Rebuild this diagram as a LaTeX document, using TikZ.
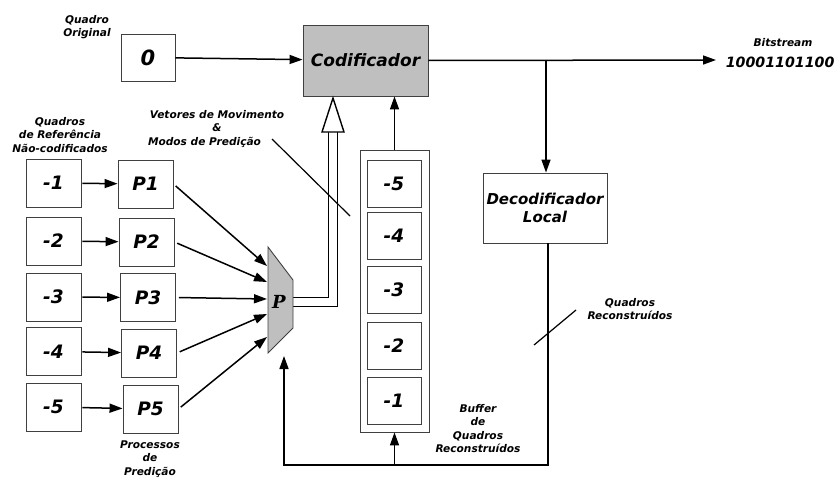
\documentclass[tikz,border=0pt]{standalone}
\usepackage{fontspec}
\setmainfont{DejaVu Sans}
\newfontfamily\muxfont{DejaVu Serif}
\usetikzlibrary{arrows.meta}
\begin{document}
\begin{tikzpicture}[x=1pt,y=-1pt,>={Triangle[length=13pt,width=9pt]},line width=1.5pt,
  box/.style={draw=black!75,line width=0.9pt,minimum width=55pt,minimum height=48pt,inner sep=0pt,font=\fontsize{18.5}{20}\selectfont\bfseries\itshape},
  lbl/.style={align=center,inner sep=0pt,font=\fontsize{10.6}{13.6}\selectfont\bfseries\itshape}]
\useasboundingbox (0,0) rectangle (840,479);
\node[lbl] (qo) at (87,27) {Quadro\\Original};
\node[box,minimum width=54pt,minimum height=47pt,font=\fontsize{21}{24}\selectfont\bfseries\itshape] (f0) at (148,57.5) {0};
\node[box,fill=black!25,minimum width=125pt,minimum height=71pt,font=\fontsize{17}{20}\selectfont\bfseries\itshape] (cod) at (365.5,60.5) {Codificador};
\node[box,minimum width=124pt,minimum height=70pt,align=center,font=\fontsize{15}{18}\selectfont\bfseries\itshape] (dec) at (545,208) {Decodificador\\Local};
\node[lbl] (bs) at (783,43) {Bitstream};
\node[anchor=west,inner sep=0pt,font=\fontsize{14.2}{16}\selectfont\bfseries\itshape] (bits) at (725,62) {10001101100};
\coordinate (out) at (716,60);
\coordinate (br) at (546,60);
\draw[->] (f0) -- (cod);
\draw[->] (cod.east) -- (out);
\draw[->] (br) -- (br |- dec.north);
\node[lbl] (qnc) at (60,135) {Quadros\\de Referência\\Não-codificados};
\foreach \i/\y in {1/183,2/241,3/297,4/351.5,5/407}
  \node[box] (r\i) at (53.5,\y) {-\i};
\foreach \i/\x/\y in {1/145.5/184,2/146.5/242,3/148/297.5,4/149/353,5/150.5/409}
  \node[box] (p\i) at (\x,\y) {P\i};
\foreach \i in {1,...,5}
  \draw[->,shorten <=1pt] (r\i) -- (p\i);
\node[lbl] (pp) at (150,459) {Processos\\de\\Predição};
\coordinate (mo) at (293,302);
\coordinate (mv) at (333,132);
\draw[double distance=8pt,line width=1.4pt] (mo) -| (mv);
\draw[line width=1.4pt,fill=white] (322,132) -- (333,98) -- (344,132) -- cycle;
\draw[draw=black!75,line width=0.9pt,fill=black!25] (268,247) -- (293,280) -- (293,328) -- (268,353) -- cycle;
\node[font=\muxfont\fontsize{18}{20}\selectfont\bfseries\itshape] (mux) at (279,302) {P};
\foreach \i/\y in {1/266,2/282,3/299,4/314,5/337}
  \coordinate (m\i) at (267,\y);
\foreach \i in {1,...,5}
  \draw[->,shorten <=3pt] (p\i.east) -- (m\i);
\node[lbl] (vm) at (217,129) {Vetores de Movimento\\\&\hspace*{20pt}\\Modos de Predição\hspace*{25pt}};
\draw[line width=1.2pt] (272,139) -- (350,216);
\node[draw=black!75,line width=0.9pt,minimum width=69pt,minimum height=282pt] (buf) at (394.5,291) {};
\foreach \i/\y in {5/183.5,4/236,3/289.5,2/345.5,1/400.5}
  \node[box,minimum width=54pt,minimum height=47pt] (b\i) at (394,\y) {-\i};
\draw[->] (buf.north) -- (buf.north |- cod.south);
\node[lbl] (bq) at (478,428.5) {Buffer\\de\\Quadros\\Reconstruídos};
\coordinate (fb1) at (548,465);
\coordinate (fb2) at (284,465);
\coordinate (fbin) at (284,356);
\draw[->] (dec.south -| fb1) -- (fb1) -- (fb2) -- (fbin);
\draw[->] (fb1 -| buf) -- (buf.south);
\draw[line width=1.2pt] (534,345) -- (576,310);
\node[lbl] (qr) at (630,309) {Quadros\\Reconstruídos};
\end{tikzpicture}
\end{document}
